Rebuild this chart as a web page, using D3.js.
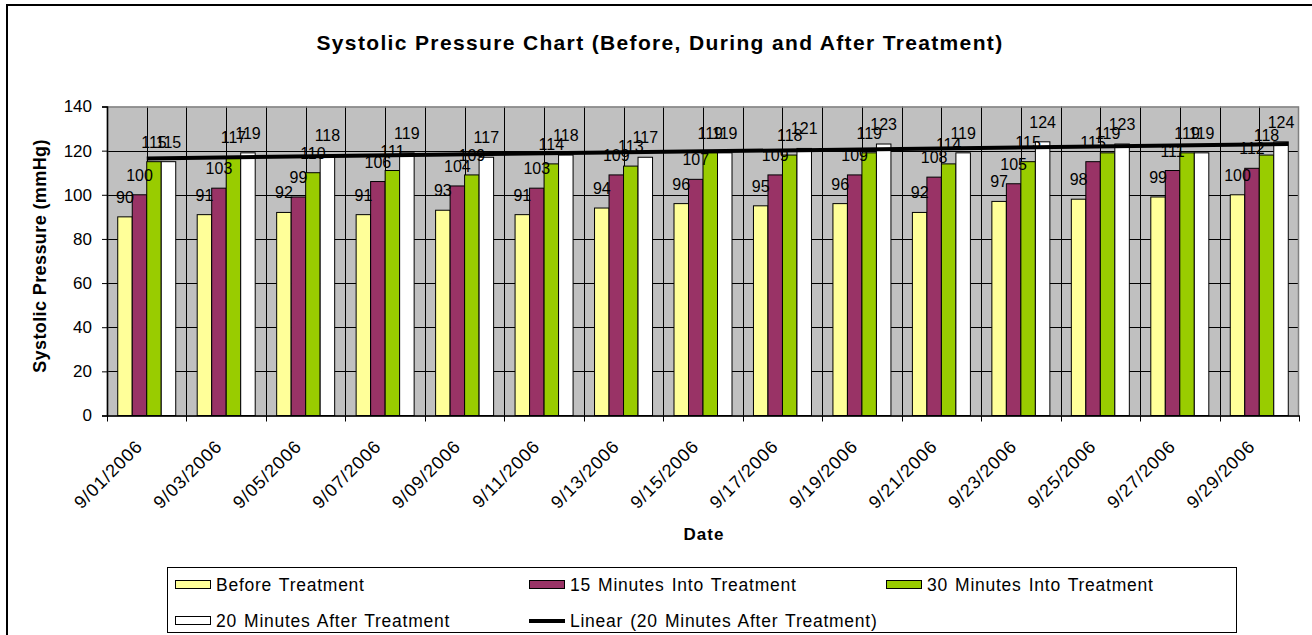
<!DOCTYPE html>
<html>
<head>
<meta charset="utf-8">
<script src="https://cdn.jsdelivr.net/npm/d3@7"></script>
<style>
  body { margin: 0; background: #fff; }
  svg { display: block; font-family: "Liberation Sans", Arial, sans-serif; }
</style>
</head>
<body>
<svg id="chart" width="1312" height="635"></svg>
<script>
const dates = ["9/01/2006", "9/03/2006", "9/05/2006", "9/07/2006", "9/09/2006",
  "9/11/2006", "9/13/2006", "9/15/2006", "9/17/2006", "9/19/2006",
  "9/21/2006", "9/23/2006", "9/25/2006", "9/27/2006", "9/29/2006"];
const beforeTreatment = [90, 91, 92, 91, 93, 91, 94, 96, 95, 96, 92, 97, 98, 99, 100];
const min15Into = [100, 103, 99, 106, 104, 103, 109, 107, 109, 109, 108, 105, 115, 111, 112];
const min30Into = [115, 117, 110, 111, 109, 114, 113, 119, 118, 119, 114, 115, 119, 119, 118];
const min20After = [115, 119, 118, 119, 117, 118, 117, 119, 121, 123, 119, 124, 123, 119, 124];
const seriesNames = ["Before Treatment", "15 Minutes Into Treatment",
  "30 Minutes Into Treatment", "20 Minutes After Treatment"];
const yTicks = [0, 20, 40, 60, 80, 100, 120, 140];

const colors = ["#ffff99", "#993366", "#99cc00", "#ffffff"];
const seriesValues = [beforeTreatment, min15Into, min30Into, min20After];

const svg = d3.select("#chart");
const plot = { left: 107, right: 1299, top: 106.5, bottom: 415.5 };

// outer chart border (only left/top show in the picture)
svg.append("rect")
  .attr("x", 7).attr("y", 5)
  .attr("width", 1340).attr("height", 700)
  .attr("fill", "none").attr("stroke", "#000").attr("stroke-width", 2);

svg.append("text")
  .attr("x", 660).attr("y", 50)
  .attr("text-anchor", "middle")
  .attr("font-size", 21).attr("font-weight", "bold")
  .attr("letter-spacing", 1.35)
  .text("Systolic Pressure Chart (Before, During and After Treatment)");

const x0 = d3.scaleBand().domain(dates).range([plot.left, plot.right]).padding(0);
const x1 = d3.scaleBand().domain(d3.range(4)).range([0, x0.bandwidth()])
  .paddingInner(0).paddingOuter(0.74);
const y = d3.scaleLinear().domain([0, 140]).range([plot.bottom, plot.top]);

// plot background
svg.append("rect")
  .attr("x", plot.left).attr("y", plot.top)
  .attr("width", plot.right - plot.left).attr("height", plot.bottom - plot.top)
  .attr("fill", "#c0c0c0");

// horizontal gridlines
svg.append("g").selectAll("line").data(yTicks.slice(1, -1)).join("line")
  .attr("x1", plot.left).attr("x2", plot.right)
  .attr("y1", d => Math.round(y(d)) + 0.5).attr("y2", d => Math.round(y(d)) + 0.5)
  .attr("stroke", "#000").attr("stroke-width", 1);

// vertical gridlines: at category edges and centres
const vLines = [];
dates.forEach((d, i) => {
  if (i > 0) vLines.push(x0(d));
  vLines.push(x0(d) + x0.bandwidth() / 2);
});
svg.append("g").selectAll("line").data(vLines).join("line")
  .attr("x1", d => Math.round(d) + 0.5).attr("x2", d => Math.round(d) + 0.5)
  .attr("y1", plot.top).attr("y2", plot.bottom)
  .attr("stroke", "#000").attr("stroke-width", 1);

// plot border
svg.append("rect")
  .attr("x", plot.left + 0.5).attr("y", plot.top + 0.5)
  .attr("width", plot.right - plot.left - 1).attr("height", plot.bottom - plot.top)
  .attr("fill", "none").attr("stroke", "#808080").attr("stroke-width", 1.5);

// bars
const groups = svg.append("g").selectAll("g").data(dates).join("g")
  .attr("transform", d => `translate(${x0(d)},0)`);

groups.selectAll("rect")
  .data((d, i) => seriesValues.map((vals, s) => ({ s, v: vals[i] })))
  .join("rect")
  .attr("x", d => x1(d.s))
  .attr("y", d => y(d.v))
  .attr("width", x1.bandwidth())
  .attr("height", d => y(0) - y(d.v))
  .attr("fill", d => colors[d.s])
  .attr("stroke", "#000").attr("stroke-width", 1);

// linear trendline for the "20 Minutes After Treatment" series
const idx = d3.range(1, dates.length + 1);
const mx = d3.mean(idx), my = d3.mean(min20After);
const slope = d3.sum(idx, (v, k) => (v - mx) * (min20After[k] - my)) /
  d3.sum(idx, v => (v - mx) * (v - mx));
const intercept = my - slope * mx;
const xi = d3.scaleLinear().domain([1, dates.length])
  .range([x0(dates[0]) + x0.bandwidth() / 2, x0(dates[dates.length - 1]) + x0.bandwidth() / 2]);
const lastBarEnd = x0(dates[dates.length - 1]) + x1(3) + x1.bandwidth();
const trendEnds = [1, xi.invert(lastBarEnd)];
svg.append("path")
  .datum(trendEnds)
  .attr("fill", "none").attr("stroke", "#000").attr("stroke-width", 4)
  .attr("d", d3.line().x(d => xi(d)).y(d => y(intercept + slope * d)));

// data labels
groups.selectAll("text")
  .data((d, i) => seriesValues.map((vals, s) => ({ s, v: vals[i] })))
  .join("text")
  .attr("x", d => x1(d.s) + x1.bandwidth() / 2)
  .attr("y", d => y(d.v) - 14)
  .attr("text-anchor", "middle")
  .attr("font-size", 16)
  .text(d => d.v);

// y axis
const yAxis = svg.append("g")
  .attr("transform", `translate(${plot.left},0)`)
  .call(d3.axisLeft(y).tickValues(yTicks).tickSize(5).tickPadding(10));
yAxis.select(".domain").attr("stroke", "#000").attr("stroke-width", 1.5);
yAxis.selectAll("text").attr("font-size", 17).attr("font-family", null).attr("fill", "#000");

// x axis
const xAxis = svg.append("g")
  .attr("transform", `translate(0,${plot.bottom})`)
  .call(d3.axisBottom(x0).tickSize(0).tickFormat(""));
xAxis.select(".domain").attr("stroke", "#000").attr("stroke-width", 1.5);
xAxis.selectAll(".tick").remove();
const xEdges = dates.map(d => x0(d)).concat([plot.right]);
xAxis.selectAll("line.edge").data(xEdges).join("line")
  .attr("class", "edge")
  .attr("x1", d => Math.round(d) + 0.5).attr("x2", d => Math.round(d) + 0.5)
  .attr("y1", 0).attr("y2", 6)
  .attr("stroke", "#000");
xAxis.selectAll("text.lbl").data(dates).join("text")
  .attr("class", "lbl")
  .attr("transform", d => `translate(${x0(d) + x0.bandwidth() / 2 - 3},${32}) rotate(-45)`)
  .attr("text-anchor", "end")
  .attr("font-size", 18).attr("letter-spacing", 0.9)
  .attr("fill", "#000")
  .text(d => d);

// axis titles
svg.append("text")
  .attr("transform", `translate(46,256) rotate(-90)`)
  .attr("text-anchor", "middle")
  .attr("font-size", 18).attr("font-weight", "bold").attr("letter-spacing", 0.4)
  .text("Systolic Pressure (mmHg)");

svg.append("text")
  .attr("x", 704).attr("y", 540)
  .attr("text-anchor", "middle")
  .attr("font-size", 17).attr("font-weight", "bold").attr("letter-spacing", 1)
  .text("Date");

// legend
const legend = svg.append("g");
legend.append("rect")
  .attr("x", 167.5).attr("y", 567.5).attr("width", 1069).attr("height", 65)
  .attr("fill", "#fff").attr("stroke", "#000").attr("stroke-width", 1);

const legendItems = [
  { name: seriesNames[0], type: "bar", color: colors[0], col: 0, row: 0 },
  { name: seriesNames[1], type: "bar", color: colors[1], col: 1, row: 0 },
  { name: seriesNames[2], type: "bar", color: colors[2], col: 2, row: 0 },
  { name: seriesNames[3], type: "bar", color: colors[3], col: 0, row: 1 },
  { name: "Linear (20 Minutes After Treatment)", type: "line", color: "#000", col: 1, row: 1 }
];
const colX = [175, 529, 886];
const rowY = [585, 621];

const li = legend.selectAll("g.item").data(legendItems).join("g")
  .attr("class", "item")
  .attr("transform", d => `translate(${colX[d.col]},${rowY[d.row]})`);
li.filter(d => d.type === "bar").append("rect")
  .attr("x", 0.5).attr("y", -4.5).attr("width", 35).attr("height", 8)
  .attr("fill", d => d.color).attr("stroke", "#000").attr("stroke-width", 1);
li.filter(d => d.type === "line").append("line")
  .attr("x1", 0).attr("x2", 36).attr("y1", 0).attr("y2", 0)
  .attr("stroke", "#000").attr("stroke-width", 4);
li.append("text")
  .attr("x", 41).attr("y", 6)
  .attr("font-size", 17.5).attr("letter-spacing", 0.75).attr("word-spacing", 1.5)
  .text(d => d.name);
</script>
</body>
</html>
